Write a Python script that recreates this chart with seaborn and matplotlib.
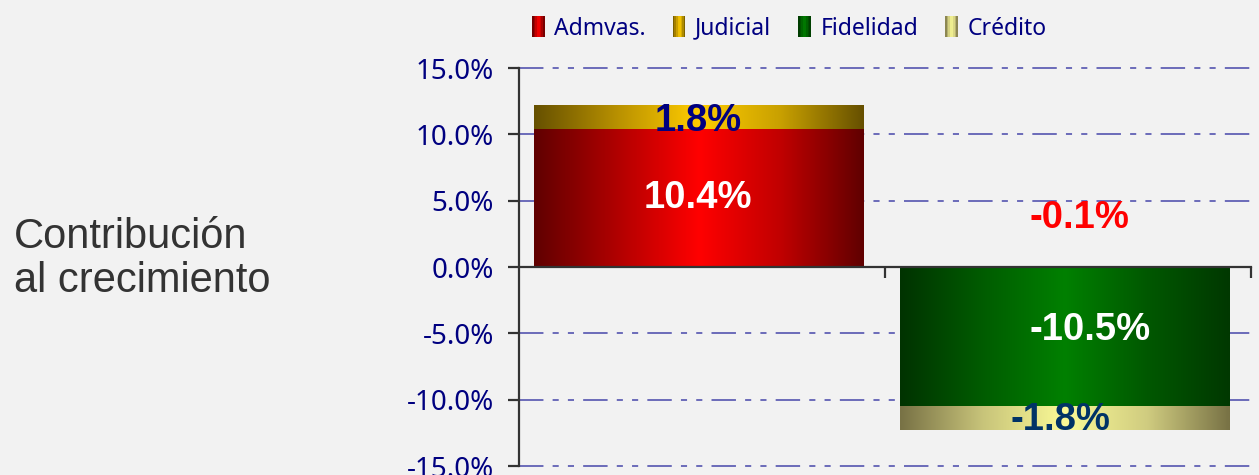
import numpy as np
import pandas as pd
import matplotlib.pyplot as plt
import seaborn as sns
from matplotlib.colors import LinearSegmentedColormap
from matplotlib.patches import Patch, Rectangle
from matplotlib.legend_handler import HandlerBase

# datos (contribucion al crecimiento, %)
grupos = ['Grupo 1', 'Grupo 2']
admvas = [10.4, 0.0]
judicial = [1.8, 0.0]
fidelidad = [0.0, -10.5]
credito = [0.0, -1.8]
total_texto = '-0.1%'
total_valor = 3.7   # altura donde va la etiqueta del total

series = ['Admvas.', 'Judicial', 'Fidelidad', 'Crédito']

df = pd.DataFrame({'grupo': grupos, 'Admvas.': admvas, 'Judicial': judicial,
                   'Fidelidad': fidelidad, 'Crédito': credito})
df['tope_pos'] = df['Admvas.'] + df['Judicial']
df['tope_neg'] = df['Fidelidad'] + df['Crédito']

# degradados horizontales (estilo excel)
grad = {
    'Admvas.': ['#600000', '#b00000', '#ff0000', '#c00000', '#600000'],
    'Judicial': ['#665000', '#b89000', '#ffcc00', '#c8a000', '#665000'],
    'Fidelidad': ['#003300', '#005c00', '#008000', '#005800', '#003800'],
    'Crédito': ['#787245', '#c8c47a', '#fafa96', '#d0cc80', '#787245'],
}
cmaps = {k: LinearSegmentedColormap.from_list(k, v) for k, v in grad.items()}
solido = {'Admvas.': '#d00000', 'Judicial': '#d8a800',
          'Fidelidad': '#006600', 'Crédito': '#e0e000'}


class GradHandler(HandlerBase):
    # cuadrito de leyenda con degradado
    def __init__(self, cmap):
        super().__init__()
        self.cmap = cmap

    def create_artists(self, legend, orig_handle, xdescent, ydescent,
                       width, height, fontsize, trans):
        n = 8
        arts = []
        for i in range(n):
            r = Rectangle((-xdescent + i * width / n, -ydescent), width / n, height,
                          facecolor=self.cmap((i + 0.5) / n), edgecolor='none',
                          transform=trans)
            arts.append(r)
        return arts


sns.set_theme(style='white')
plt.rcParams['font.family'] = ['Noto Sans', 'DejaVu Sans']
navy = '#000080'

fig = plt.figure(figsize=(12.59, 4.75), dpi=100)
fig.patch.set_facecolor('#f2f2f2')
ax = fig.add_axes([0.4122, 0.0189, 0.5815, 0.8379])
ax.set_facecolor('#f2f2f2')

# barras apiladas: primero el total, luego la base encima
capas = [('tope_pos', 'Judicial'), ('Admvas.', 'Admvas.'),
         ('tope_neg', 'Crédito'), ('Fidelidad', 'Fidelidad')]
g = np.linspace(0, 1, 256).reshape(1, -1)
for col, nombre in capas:
    n0 = len(ax.patches)
    sns.barplot(data=df, x='grupo', y=col, order=grupos, width=0.9,
                color=solido[nombre], ax=ax, zorder=3)
    for p in ax.patches[n0:]:
        if p.get_height() == 0:
            p.set_visible(False)
            continue
        x0, y0 = p.get_x(), p.get_y()
        x1, y1 = x0 + p.get_width(), y0 + p.get_height()
        im = ax.imshow(g, cmap=cmaps[nombre], aspect='auto', zorder=3.5,
                       extent=[x0, x1, min(y0, y1), max(y0, y1)])
        im.set_clip_path(p)
        p.set_facecolor('none')
        p.set_edgecolor('none')

ax.set_xlim(-0.49, 1.51)
ax.set_ylim(-15, 15)
ax.set_yticks(np.arange(-15, 16, 5))
ax.set_yticklabels([f'{v:.1f}%' for v in np.arange(-15, 16, 5)])
ax.set_xticks([0.51, 1.51])
ax.set_xticklabels([])
ax.set_xlabel('')
ax.set_ylabel('')

for v in [-15, -10, -5, 5, 10, 15]:
    ax.axhline(v, color='#4646aa', lw=1.1, dashes=(16, 6, 4, 6, 4, 6),
               zorder=1, clip_on=False)

for s in ['top', 'right']:
    ax.spines[s].set_visible(False)
ax.spines['left'].set_color('#333333')
ax.spines['left'].set_linewidth(1.6)
ax.spines['bottom'].set_position(('data', 0))
ax.spines['bottom'].set_color('#333333')
ax.spines['bottom'].set_linewidth(1.6)
ax.spines['bottom'].set_zorder(4)
ax.tick_params(axis='y', direction='out', length=8, width=1.6, color='#333333',
               labelsize=20, labelcolor=navy, pad=10, left=True)
ax.tick_params(axis='x', direction='out', length=8, width=1.6, color='#333333',
               bottom=True)

# etiquetas de valores
lab = dict(ha='center', va='center', fontsize=27.5, fontweight='bold',
           family=['Liberation Sans', 'DejaVu Sans'], zorder=6)
ax.text(0, admvas[0] / 2, f'{admvas[0]:.1f}%', color='white', **lab)
ax.text(0, admvas[0] + judicial[0] / 2 - 0.3, f'{judicial[0]:.1f}%', color=navy, **lab)
ax.text(1.07, fidelidad[1] / 2 + 0.5, f'{fidelidad[1]:.1f}%', color='white', **lab)
ax.text(0.99, fidelidad[1] + credito[1] / 2 - 0.1, f'{credito[1]:.1f}%', color='#003366', **lab)
ax.text(1.04, total_valor, total_texto, color='#ff0000', **lab)

# leyenda
handles = [Patch(facecolor=solido[s], edgecolor='none') for s in series]
fig.legend(handles, series, loc='center left', bbox_to_anchor=(0.4225, 0.94),
           ncol=4, frameon=False, fontsize=16.5, labelcolor=navy,
           handlelength=0.55, handleheight=1.0, handletextpad=0.42,
           columnspacing=1.18, borderaxespad=0, borderpad=0,
           handler_map={h: GradHandler(cmaps[s]) for h, s in zip(handles, series)})

fig.text(0.011, 0.455, 'Contribución\nal crecimiento', fontsize=30,
         color='#333333', ha='left', va='center', linespacing=1.12,
         family=['Liberation Sans', 'DejaVu Sans'])

plt.savefig('out.png', dpi=100, facecolor=fig.get_facecolor())
